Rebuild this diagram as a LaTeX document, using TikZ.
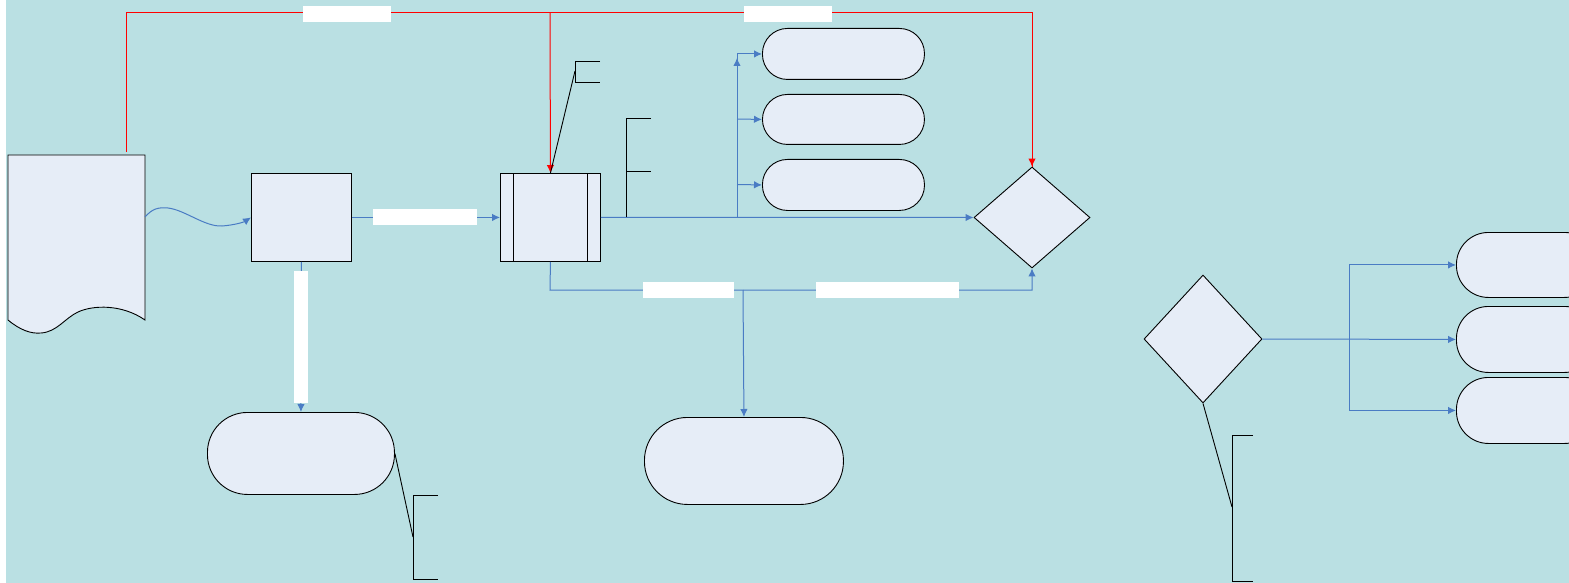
\documentclass[tikz,border=0pt]{standalone}
\usetikzlibrary{shapes.geometric,arrows.meta}
\definecolor{bg}{RGB}{186,224,227}
\definecolor{nodefill}{RGB}{230,237,247}
\definecolor{flow}{RGB}{74,124,196}
\begin{document}
\begin{tikzpicture}[x=1pt,y=-1pt,
  shp/.style={draw=black,fill=nodefill,line width=0.9pt,inner sep=0pt},
  boxn/.style={shp,rectangle,anchor=north west},
  term/.style={shp,rectangle,anchor=north west},
  dia/.style={shp,diamond},
  flowline/.style={draw=flow,line width=1pt},
  arr/.style={-{Latex[length=8pt,width=7.5pt]}},
  redline/.style={draw=red,line width=1pt},
  callout/.style={draw=black,line width=0.9pt},
  lbl/.style={fill=white,draw=none,inner sep=0pt,rectangle}
]
\useasboundingbox (0,0) rectangle (1569,583);
\clip (0,0) rectangle (1569,583);
\fill[bg] (6,0) rectangle (1569,583);

% document shape
\draw[shp] (8,155) -- (8,320) .. controls (20,330) and (31,334) .. (41,333)
  .. controls (57,332) and (65,318) .. (78,312) .. controls (93,305) and (122,304) .. (145,320)
  -- (145,155) -- cycle;
\coordinate (doce) at (145,217);
\coordinate (doctop) at (126,152);

% process boxes
\node[boxn,minimum width=100pt,minimum height=88pt] (p1) at (251,173) {};
\node[boxn,minimum width=100pt,minimum height=88pt] (p2) at (500,173) {};
\draw[line width=0.9pt] ([xshift=13pt]p2.north west) -- ([xshift=13pt]p2.south west);
\draw[line width=0.9pt] ([xshift=-13pt]p2.north east) -- ([xshift=-13pt]p2.south east);

% terminators
\node[term,minimum width=162pt,minimum height=51pt,rounded corners=25pt] (t1) at (762,28) {};
\node[term,minimum width=162pt,minimum height=50pt,rounded corners=25pt] (t2) at (762,94) {};
\node[term,minimum width=162pt,minimum height=51pt,rounded corners=25pt] (t3) at (762,159) {};
\node[term,minimum width=187pt,minimum height=82pt,rounded corners=40pt] (t4) at (207,412) {};
\node[term,minimum width=199pt,minimum height=87pt,rounded corners=43pt] (t5) at (644,417) {};
\node[term,minimum width=140pt,minimum height=65pt,rounded corners=32pt] (t6) at (1456,232) {};
\node[term,minimum width=140pt,minimum height=66pt,rounded corners=32pt] (t7) at (1456,306) {};
\node[term,minimum width=140pt,minimum height=66pt,rounded corners=32pt] (t8) at (1456,377) {};

% decisions
\node[dia,minimum width=116pt,minimum height=101pt] (d1) at (1032,217.5) {};
\node[dia,minimum width=118pt,minimum height=128pt] (d2) at (1203,339) {};

% red lines
\draw[redline] (doctop) -- (126,13) -| (d1.north);
\draw[redline,arr] (1032,150) -- (d1.north);
\draw[redline,arr] (550,13) -- (p2.north);
\node[lbl,minimum width=88pt,minimum height=16pt] (lr1) at (347,14) {};
\node[lbl,minimum width=88pt,minimum height=16pt] (lr2) at (788,14) {};

% blue flow
\draw[flowline,arr] (doce) .. controls (152,209) and (158,207) .. (168,208)
  .. controls (185,210) and (205,227) .. (222,226) .. controls (235,225) and (244,222) .. (p1.west);
\draw[flowline,arr] (p1.east) -- (p2.west);
\node[lbl,minimum width=104pt,minimum height=16pt] (l1) at (425,217) {};
\draw[flowline,arr] (p1.south) -- (t4.north);
\node[lbl,minimum width=14pt,minimum height=132pt] (l2) at (301,337) {};

\draw[flowline,arr] (p2.east) -- (d1.west);
\coordinate (br1) at (737,217);
\draw[flowline,arr] (br1) -- (737,58);
\draw[flowline,arr] (737,60) |- (t1.west);
\draw[flowline,arr] (737,119) -- (t2.west);
\draw[flowline,arr] (737,184.5) -- (t3.west);

\draw[flowline,arr] (p2.south) -- (550,290) -| (d1.south);
\draw[flowline,arr] (743,290) -- (t5.north);
\node[lbl,minimum width=91pt,minimum height=16pt] (l3) at (688,290) {};
\node[lbl,minimum width=143pt,minimum height=16pt] (l4) at (887,290) {};

\draw[flowline,arr] (d2.east) -- (t7.west);
\coordinate (br2) at (1349,339);
\draw[flowline,arr] (br2) |- (t6.west);
\draw[flowline,arr] (br2) |- (t8.west);

% callouts
\draw[callout] (p2.north) -- (575,71);
\draw[callout] (600,61) -- (575,61) -- (575,82) -- (600,82);
\draw[callout] (626,217) -- (626,144);
\draw[callout] (651,118) -- (626,118) -- (626,171) -- (651,171);
\draw[callout] (t4.east) -- (413,537);
\draw[callout] (438,495) -- (413,495) -- (413,579) -- (438,579);
\draw[callout] (d2.south) -- (1232,507);
\draw[callout] (1253,435) -- (1232,435) -- (1232,581) -- (1253,581);
\end{tikzpicture}
\end{document}
